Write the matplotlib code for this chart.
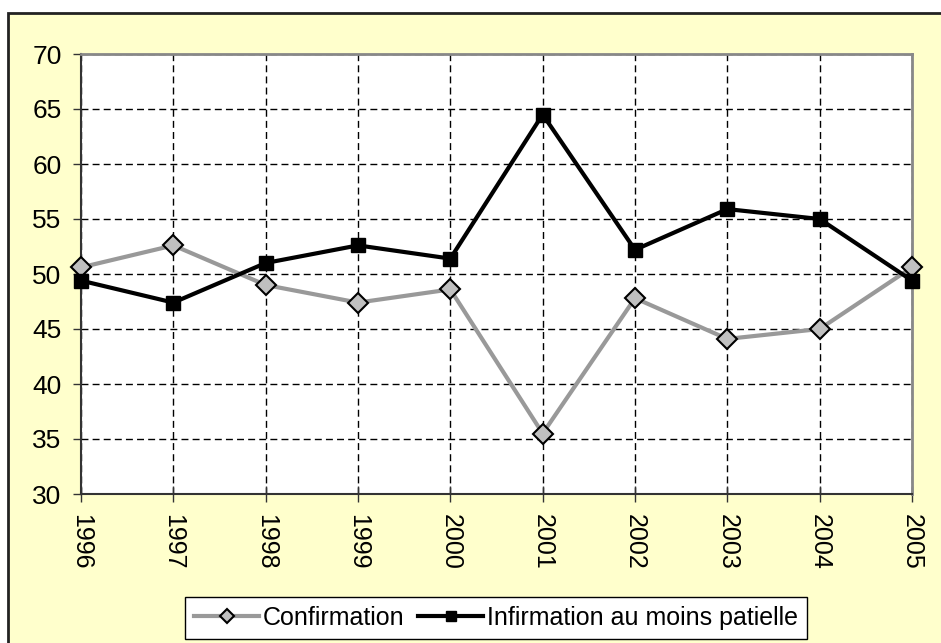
import numpy as np
import matplotlib
matplotlib.use('Agg')
import matplotlib.pyplot as plt
import matplotlib.patches as mpatches

plt.rcParams.update({
    'font.family': ['Liberation Sans', 'DejaVu Sans'],
    'font.size': 17,
})

years = [1996, 1997, 1998, 1999, 2000, 2001, 2002, 2003, 2004, 2005]
confirmation = [50.6, 52.6, 49.0, 47.4, 48.6, 35.5, 47.8, 44.1, 45.0, 50.6]
infirmation = [49.4, 47.4, 51.0, 52.6, 51.4, 64.5, 52.2, 55.9, 55.0, 49.4]
yticks = [30, 35, 40, 45, 50, 55, 60, 65, 70]

W, H = 941, 643
fig = plt.figure(figsize=(W / 100, H / 100), dpi=100, facecolor='white')

# yellow chart area with dark border (right/bottom run off the image)
bg = mpatches.Rectangle((8 / W, -0.05), 1.1, 1 - 13 / H + 0.05,
                        transform=fig.transFigure, facecolor='#FFFFCC',
                        edgecolor='#222222', lw=2, zorder=-10)
fig.patches.append(bg)

ax = fig.add_axes([81 / W, 1 - 494 / H, (912 - 81) / W, (494 - 54) / H])
ax.set_facecolor('white')

ax.plot(years, confirmation, color='#999999', lw=3, marker='D', ms=10,
        mfc='#C0C0C0', mec='black', mew=1.5, clip_on=False, zorder=3,
        label='Confirmation')
ax.plot(years, infirmation, color='black', lw=3, marker='s', ms=10,
        mfc='black', mec='black', clip_on=False, zorder=4,
        label='Infirmation au moins patielle')

ax.set_xlim(1996, 2005)
ax.set_ylim(30, 70)
ax.set_xticks(years)
ax.set_xticklabels([str(y) for y in years], rotation=270)
ax.set_yticks(yticks)

ax.grid(True, color='black', ls=(0, (5, 3)), lw=1)
ax.set_axisbelow(True)

for s in ['top', 'right']:
    ax.spines[s].set_color('#888888')
    ax.spines[s].set_linewidth(2)
for s in ['left', 'bottom']:
    ax.spines[s].set_color('#333333')
    ax.spines[s].set_linewidth(1.5)

ax.tick_params(axis='x', direction='inout', length=11, width=1, pad=9,
               labelsize=18, color='#333333')
ax.tick_params(axis='y', direction='out', length=6, width=1, pad=8,
               labelsize=19, color='#333333')

leg = fig.legend(loc='center', bbox_to_anchor=(496 / W, 1 - 618 / H), ncol=2,
                 fontsize=18, frameon=True, fancybox=False, framealpha=1,
                 edgecolor='black', handlelength=2.6, handletextpad=0.15,
                 columnspacing=0.55, borderpad=0.35, markerscale=0.75)
leg.get_frame().set_linewidth(1)

fig.savefig('out.png', dpi=100, facecolor=fig.get_facecolor())
